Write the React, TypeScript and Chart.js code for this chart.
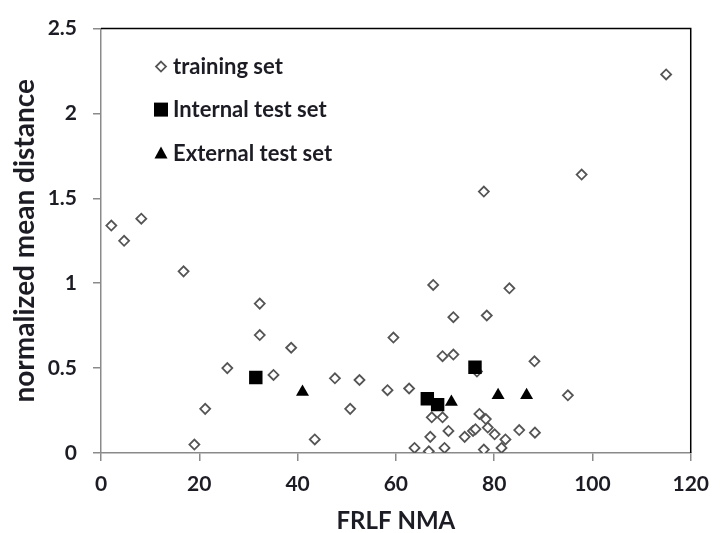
import React, { useEffect, useRef } from "react";
import { Chart, registerables } from "chart.js";

Chart.register(...registerables);

// ---- data ----
const trainingX = [2.1, 4.7, 8.2, 16.8, 19, 21.2, 25.7, 32.3, 32.3, 35.1, 38.7, 43.5, 47.6, 50.7, 52.6, 58.3, 59.5, 62.7, 63.8, 66.7, 67, 67.3, 67.6, 69.5, 69.5, 69.9, 70.7, 71.7, 71.7, 74, 75.7, 76.2, 76.5, 77, 77.9, 77.9, 78.3, 78.5, 78.7, 80.1, 81.5, 82.3, 83.1, 85.1, 88.2, 88.3, 95, 97.8, 115];
const trainingY = [1.34, 1.25, 1.38, 1.07, 0.05, 0.26, 0.5, 0.88, 0.695, 0.46, 0.62, 0.08, 0.44, 0.26, 0.43, 0.37, 0.68, 0.38, 0.03, 0.01, 0.095, 0.21, 0.99, 0.57, 0.21, 0.03, 0.13, 0.58, 0.8, 0.095, 0.13, 0.14, 0.48, 0.23, 0.02, 1.54, 0.2, 0.81, 0.15, 0.11, 0.03, 0.08, 0.97, 0.135, 0.54, 0.12, 0.34, 1.64, 2.23];
const internalX = [31.5, 66.4, 68.5, 76.1];
const internalY = [0.445, 0.32, 0.285, 0.505];
const externalX = [41, 71.3, 80.8, 86.6];
const externalY = [0.36, 0.3, 0.34, 0.34];

const seriesNames = ["training set", "Internal test set", "External test set"];
const xTitle = "FRLF NMA";
const yTitle = "normalized mean distance";

const FONT = "Lato, 'Liberation Sans', sans-serif";
const TEXT = "#1c1c24";

const toPoints = (xs: number[], ys: number[]) => xs.map((x, i) => ({ x, y: ys[i] }));

const frameAndLegend = {
  id: "frameAndLegend",
  afterDraw(chart: any) {
    const { ctx, chartArea } = chart;
    const { left, top, right, bottom } = chartArea;
    ctx.save();
    // top & right border (black)
    ctx.strokeStyle = "#000";
    ctx.lineWidth = 1.5;
    ctx.beginPath();
    ctx.moveTo(left, top);
    ctx.lineTo(right, top);
    ctx.lineTo(right, bottom);
    ctx.stroke();

    // legend
    const lx = left + 60;
    const tx = left + 72;
    const rows = [top + 38, top + 81, top + 125];
    ctx.font = `bold 22px ${FONT}`;
    ctx.textBaseline = "middle";
    ctx.textAlign = "left";
    // diamond
    let y = rows[0];
    ctx.beginPath();
    ctx.moveTo(lx, y - 5);
    ctx.lineTo(lx + 5, y);
    ctx.lineTo(lx, y + 5);
    ctx.lineTo(lx - 5, y);
    ctx.closePath();
    ctx.fillStyle = "#fff";
    ctx.fill();
    ctx.strokeStyle = "#555";
    ctx.lineWidth = 1.8;
    ctx.stroke();
    // square
    y = rows[1];
    ctx.fillStyle = "#000";
    ctx.fillRect(lx - 7, y - 7, 14, 14);
    // triangle
    y = rows[2];
    ctx.beginPath();
    ctx.moveTo(lx, y - 7);
    ctx.lineTo(lx + 6.5, y + 5);
    ctx.lineTo(lx - 6.5, y + 5);
    ctx.closePath();
    ctx.fill();
    ctx.fillStyle = TEXT;
    seriesNames.forEach((name, i) => ctx.fillText(name, tx, rows[i]));
    ctx.restore();
  },
};

export default function App() {
  const ref = useRef<HTMLCanvasElement | null>(null);
  useEffect(() => {
    document.body.style.margin = "0";
    if (!ref.current) return;
    const chart = new Chart(ref.current, {
      type: "scatter",
      data: {
        datasets: [
          {
            label: seriesNames[0],
            data: toPoints(trainingX, trainingY),
            pointStyle: "rectRot",
            pointRadius: 5,
            pointBorderWidth: 1.8,
            pointBackgroundColor: "#fff",
            pointBorderColor: "#555",
            order: 3,
          },
          {
            label: seriesNames[1],
            data: toPoints(internalX, internalY),
            pointStyle: "rect",
            pointRadius: 9.5,
            pointBorderWidth: 0,
            pointBackgroundColor: "#000",
            pointBorderColor: "#000",
            order: 2,
          },
          {
            label: seriesNames[2],
            data: toPoints(externalX, externalY),
            pointStyle: "triangle",
            pointRadius: 7.5,
            pointBorderWidth: 0,
            pointBackgroundColor: "#000",
            pointBorderColor: "#000",
            order: 1,
          },
        ],
      },
      options: {
        responsive: false,
        animation: false,
        devicePixelRatio: 1,
        layout: { padding: { top: 23, right: 20, left: 0, bottom: 0 } },
        plugins: { legend: { display: false }, tooltip: { enabled: false } },
        scales: {
          x: {
            type: "linear",
            min: 0,
            max: 120,
            afterFit: (s: any) => { s.height = 80; },
            ticks: { stepSize: 20, color: TEXT, font: { family: FONT, size: 21, weight: "bold" }, padding: 11 },
            grid: { display: true, drawOnChartArea: false, drawTicks: true, tickLength: 8, color: "#8a8a8a", lineWidth: 1.5 },
            border: { display: true, color: "#8a8a8a", width: 1.5 },
            title: { display: true, text: xTitle, color: TEXT, font: { family: FONT, size: 24, weight: "bold", lineHeight: 1 }, padding: { top: 0, bottom: 0 } },
          },
          y: {
            type: "linear",
            min: 0,
            max: 2.5,
            afterFit: (s: any) => { s.width = 101; },
            ticks: {
              stepSize: 0.5,
              color: TEXT,
              font: { family: FONT, size: 21, weight: "bold" },
              padding: 16,
              callback: (v: any) => String(Number(v)),
            },
            grid: { display: true, drawOnChartArea: false, drawTicks: true, tickLength: 8, color: "#8a8a8a", lineWidth: 1.5 },
            border: { display: true, color: "#8a8a8a", width: 1.5 },
            title: { display: true, text: yTitle, color: TEXT, font: { family: FONT, size: 28, weight: "bold", lineHeight: 1.2 }, padding: { top: 8, bottom: 0 } },
          },
        },
      },
      plugins: [frameAndLegend],
    } as any);
    return () => chart.destroy();
  }, []);
  return (
    <div style={{ width: 720, height: 533, background: "#fff" }}>
      <canvas ref={ref} width={720} height={533} />
    </div>
  );
}
